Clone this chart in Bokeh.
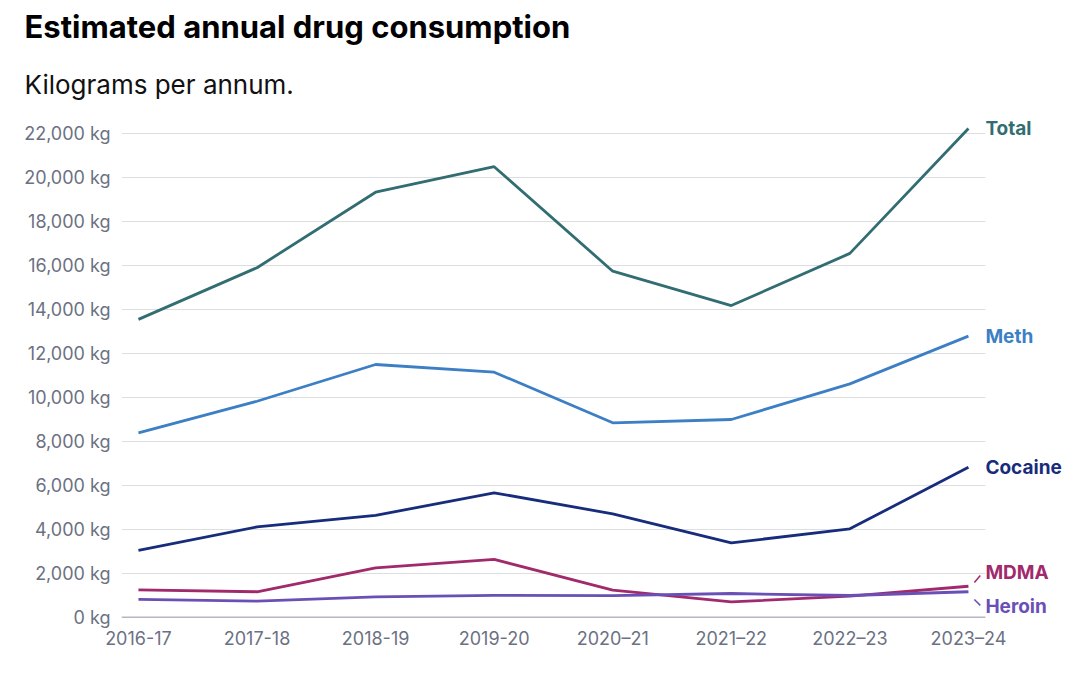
from bokeh.plotting import figure
from bokeh.models import FixedTicker, Title, Range1d, ColumnDataSource
from bokeh.core.properties import value
from bokeh.embed import file_html
from bokeh.resources import INLINE

years = ["2016-17", "2017-18", "2018-19", "2019-20", "2020\u201321", "2021\u201322", "2022\u201323", "2023\u201324"]
total = [13550, 15900, 19330, 20490, 15740, 14180, 16550, 22230]
meth = [8390, 9830, 11500, 11150, 8850, 9000, 10620, 12790]
cocaine = [3050, 4120, 4640, 5670, 4710, 3390, 4030, 6830]
mdma = [1260, 1170, 2260, 2640, 1240, 710, 970, 1420]
heroin = [820, 740, 940, 1010, 990, 1090, 1000, 1170]
y_ticks = [0, 2000, 4000, 6000, 8000, 10000, 12000, 14000, 16000, 18000, 20000, 22000]

names = ["Total", "Meth", "Cocaine", "MDMA", "Heroin"]
values = [total, meth, cocaine, mdma, heroin]
colors = ["#326d72", "#3d7fc4", "#182c7c", "#a02a6b", "#6a50b6"]
label_nudge = [0, 0, 0, 620, -670]   # vertical separation of end labels (data units)

FONT = "Inter"
GRAY = "#6b7182"
PAD = 0.143          # horizontal padding of the chart area (category units)
n = len(years)
xs = list(range(n))
x_lo, x_hi = -PAD, n - 1 + PAD
FW = 943

p = figure(width=1064, height=660, output_backend="svg", toolbar_location=None,
           frame_width=FW, frame_height=500,
           min_border_left=121, min_border_right=0, min_border_bottom=42, min_border_top=0,
           x_range=Range1d(x_lo, x_lo + FW / 118.57), y_range=Range1d(0, 22727))
p.title = None
p.outline_line_color = None
p.background_fill_color = "white"
p.border_fill_color = "white"

# horizontal gridlines limited to the chart area
p.segment(x0=[x_lo] * (len(y_ticks) - 1), x1=[x_hi] * (len(y_ticks) - 1),
          y0=y_ticks[1:], y1=y_ticks[1:], line_color="#dddee2", line_width=1)
# baseline
p.segment(x0=[x_lo], x1=[x_hi], y0=[0], y1=[0], line_color=GRAY, line_width=1.6)

for name, vals, color in zip(names, values, colors):
    p.line(xs, vals, line_color=color, line_width=2.8)

lab = ColumnDataSource(dict(
    x=[x_hi] * len(names),
    y=[v[-1] + d for v, d in zip(values, label_nudge)],
    text=names, color=colors))
p.text(x="x", y="y", text="text", text_color="color", source=lab,
       text_font=value(FONT), text_font_style="bold", text_font_size="19px",
       text_baseline="middle", text_align="left")

# leader ticks for the two close labels
last = n - 1
p.segment(x0=[last + 0.05], y0=[mdma[-1] + 170], x1=[last + 0.10], y1=[mdma[-1] + 490],
          line_color=colors[3], line_width=1.5)
p.segment(x0=[last + 0.05], y0=[heroin[-1] - 350], x1=[last + 0.10], y1=[heroin[-1] - 620],
          line_color=colors[4], line_width=1.5)

p.xaxis.ticker = FixedTicker(ticks=xs)
p.xaxis.major_label_overrides = {i: y for i, y in enumerate(years)}
p.yaxis.ticker = FixedTicker(ticks=y_ticks)
p.yaxis.major_label_overrides = {v: f"{v:,} kg" for v in y_ticks}

for ax in (p.xaxis, p.yaxis):
    ax.axis_line_color = None
    ax.major_tick_line_color = None
    ax.minor_tick_line_color = None
    ax.major_label_text_font = FONT
    ax.major_label_text_font_size = "18px"
    ax.major_label_text_color = GRAY
p.yaxis.major_label_standoff = 5
p.xaxis.major_label_standoff = 4

p.xgrid.grid_line_color = None
p.ygrid.grid_line_color = None

p.add_layout(Title(text="Kilograms per annum.", text_font=FONT, text_font_size="26px",
                   text_font_style="normal", text_color="#111111", align="left",
                   offset=-97, standoff=35), "above")
p.add_layout(Title(text="Estimated annual drug consumption", text_font=FONT,
                   text_font_size="31px", text_font_style="bold", text_color="#000000",
                   align="left", offset=-97, standoff=10), "above")

open("out.html", "w").write(file_html(p, INLINE))
